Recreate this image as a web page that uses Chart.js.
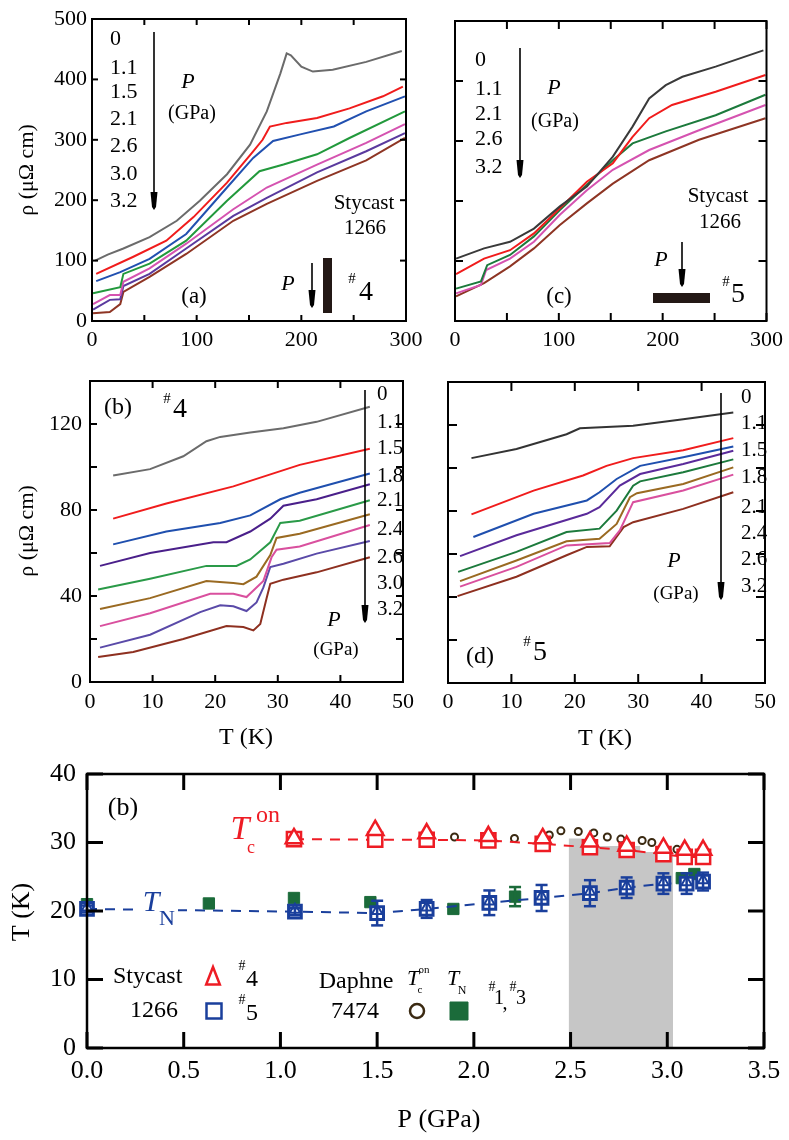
<!DOCTYPE html>
<html>
<head>
<meta charset="utf-8">
<title>rho(T) under pressure and T-P diagram</title>
<script src="https://cdn.jsdelivr.net/npm/chart.js@4.4.1/dist/chart.umd.min.js"></script>
<style>
  body { margin: 0; background: #fff; }
  #wrap { position: relative; width: 789px; height: 1140px; }
  #wrap canvas { position: absolute; left: 0; top: 0; }
</style>
</head>
<body>
<div id="wrap">
  <canvas id="pa" width="789" height="1140"></canvas>
  <canvas id="pc" width="789" height="1140"></canvas>
  <canvas id="pb" width="789" height="1140"></canvas>
  <canvas id="pd" width="789" height="1140"></canvas>
  <canvas id="pe" width="789" height="1140"></canvas>
</div>
<script>
// ---- datos: [T (K), rho (uOhm cm)] ----
// panel (a), muestra #4, 0-300 K
const a00 = [[3,100],[15,110],[30,120],[55,139],[81,166],[103,199],[129,243],[151,292],[167,347],[180,410],[186,443],[190,440],[200,421],[211,413],[230,416],[262,429],[296,447]];
const a11 = [[4,78],[39,106],[71,133],[97,172],[129,229],[154,281],[163,300],[170,322],[186,328],[215,336],[246,352],[278,372],[297,388]];
const a15 = [[4,66],[27,81],[55,103],[90,144],[129,221],[154,270],[173,298],[199,309],[231,322],[262,347],[299,372]];
const a21 = [[1,46],[27,56],[30,78],[55,95],[90,133],[129,199],[160,248],[183,259],[215,276],[246,303],[299,347]];
const a26 = [[1,28],[17,43],[27,43],[30,65],[55,87],[90,128],[135,185],[167,221],[215,259],[262,295],[299,326]];
const a30 = [[1,19],[17,35],[27,36],[30,58],[55,78],[90,120],[135,174],[167,204],[215,246],[262,281],[299,311]];
const a32 = [[1,13],[17,15],[27,28],[30,48],[55,73],[90,111],[135,166],[167,194],[215,232],[262,266],[299,303]];
const presA = ['0', '1.1', '1.5', '2.1', '2.6', '3.0', '3.2'];

// panel (c), muestra #5, 0-300 K
const c00 = [[1,104],[28,121],[53,132],[76,154],[101,191],[127,224],[152,274],[171,324],[187,371],[203,393],[219,407],[251,424],[297,451]];
const c11 = [[1,78],[28,104],[53,118],[76,146],[101,188],[127,232],[152,263],[171,307],[187,338],[209,360],[251,382],[299,410]];
const c21 = [[1,54],[25,66],[31,93],[53,110],[76,141],[101,185],[127,227],[152,268],[171,296],[203,316],[251,343],[299,377]];
const c26 = [[1,46],[25,60],[30,85],[53,104],[76,132],[101,177],[127,218],[152,252],[187,285],[235,318],[299,360]];
const c32 = [[1,41],[28,63],[53,91],[76,121],[101,160],[127,196],[152,229],[187,268],[235,302],[299,338]];
const presC = ['0', '1.1', '2.1', '2.6', '3.2'];

// panel (b), muestra #4, baja temperatura
const b00 = [[3.7,96],[9.6,99],[14.9,105],[18.6,112],[20.8,114],[25.6,116],[30.9,118],[36.2,121],[44.7,128]];
const b11 = [[3.7,76],[12.2,83],[22.9,91],[33.5,101],[44.7,108.5]];
const b15 = [[3.7,64],[12.2,70],[20.8,74],[25.6,77.5],[30.4,85],[33.5,88],[44.7,97]];
const b18 = [[1.6,54],[9.6,60],[19.7,65],[21.8,65],[25.6,70],[28.8,76],[30.9,82],[36.2,85],[44.7,92]];
const b21 = [[1.3,43],[9.6,48],[18.6,54],[23.4,54],[25.6,57],[28.8,65],[30.4,74],[33.5,75],[44.7,84.5]];
const b24 = [[1.6,34],[9.6,39],[18.6,47],[22.9,46],[24.5,45.5],[26.6,49],[28.8,59],[29.8,67],[33.5,69],[44.7,78]];
const b26 = [[1.6,26],[9.6,32],[19.2,41],[22.9,41],[25,39.5],[27.7,47],[29,58],[29.8,61.5],[33.5,63],[44.7,73]];
const b30 = [[1.6,16],[9.6,22],[17.6,32.5],[20.8,35.7],[22.9,35.2],[25,33],[26.6,37],[27.7,44],[28.8,53.5],[30.9,55],[36.2,59.7],[44.7,65.6]];
const b32 = [[1.3,11.6],[6.9,14],[14.9,20],[21.8,26],[24.5,25.6],[26.1,24],[27.2,27],[28.2,38.8],[28.8,45.7],[30.9,47.6],[36.2,51],[44.7,58]];
const presB = ['0', '1.1', '1.5', '1.8', '2.1', '2.4', '2.6', '3.0', '3.2'];

// panel (d), muestra #5, baja temperatura
const d00 = [[3.7,104.6],[10.8,108.8],[18.7,115.7],[20.8,118.5],[29.2,119.6],[37.1,122.7],[45,125.8]];
const d11 = [[3.7,78.4],[13.5,89.5],[21.3,96.5],[25,101],[29.2,104.6],[37.1,108.3],[45,113.9]];
const d15 = [[4,67.9],[13.5,78.7],[21.9,84.9],[23.9,88.7],[26.6,94.9],[30.3,101],[37.1,105],[45,110]];
const d18 = [[1.9,59],[10.8,68.7],[21.9,78.7],[23.9,81.8],[27.1,91.8],[30.3,97.2],[37.1,101.9],[45,108]];
const d21 = [[1.6,51.7],[10.8,61],[18.7,70.2],[23.9,71.8],[26.6,80.2],[29.2,91.8],[30.3,93.8],[37.1,98],[45,104]];
const d24 = [[1.9,47.4],[10.8,57],[18.7,65.9],[23.9,67.1],[26.6,74],[28.7,86.4],[29.8,88.3],[37.1,92.6],[45,100.3]];
const d26 = [[1.9,44.8],[10.8,54],[18.7,64],[25.5,65.1],[27.1,71],[29.2,84.1],[37.1,89.5],[45,96.9]];
const d32 = [[1.5,40.4],[10.8,49.4],[18.7,59.4],[21.9,63.3],[25.5,63.6],[27.7,72.5],[29.2,74.8],[37.1,81],[45,88.7]];
const presD = ['0', '1.1', '1.5', '1.8', '2.1', '2.4', '2.6', '3.2'];

// panel inferior: T-P
const pTc4 = [1.07, 1.49, 1.756, 2.075, 2.356, 2.60, 2.79, 2.98, 3.09, 3.185];
const tTc4 = [30.6, 31.8, 31.3, 30.9, 30.6, 30.1, 29.5, 29.2, 28.9, 28.9];
const pTc5 = [1.07, 1.49, 1.756, 2.075, 2.356, 2.60, 2.79, 2.98, 3.09, 3.185];
const tTc5 = [30.5, 30.4, 30.4, 30.3, 29.8, 29.3, 28.9, 28.3, 27.9, 27.9];
const pTn5 = [0.0, 1.075, 1.50, 1.756, 2.08, 2.35, 2.60, 2.79, 2.98, 3.10, 3.185];
const tTn5 = [20.3, 19.9, 19.7, 20.3, 21.2, 21.9, 22.6, 23.4, 24.0, 24.0, 24.3];
const eTn5 = [0.5, 0.5, 1.8, 1.3, 1.8, 1.9, 1.9, 1.5, 1.5, 1.5, 1.3];
const pTn4 = [0.0, 1.075, 1.50, 1.756, 2.08, 2.35, 2.60, 2.79, 2.98, 3.10, 3.185];
const tTn4 = [20.5, 20.2, 20.0, 20.5, 21.4, 22.1, 22.8, 23.6, 24.2, 24.2, 24.5];
const pTcD = [1.90, 2.21, 2.39, 2.45, 2.54, 2.62, 2.69, 2.76, 2.87, 2.92, 3.05];
const tTcD = [30.8, 30.6, 31.1, 31.7, 31.6, 31.4, 30.8, 30.5, 30.3, 30.0, 29.0];
const pTnD = [0.0, 0.63, 1.07, 1.465, 1.894, 2.213, 3.075, 3.14];
const tTnD = [21.0, 21.1, 21.9, 21.3, 20.3, 22.1, 24.8, 25.4];
const eTnD = [0, 0, 0, 0, 0, 1.4, 0, 0];
const grayP = [2.49, 2.63, 2.63, 2.86, 2.86, 3.03];
const grayT = [30.6, 30.6, 29.5, 29.5, 28.6, 28.6];

// ---- estilos ----
const W = 789, H = 1140;
const FONT = "'Liberation Serif', 'Times New Roman', serif";
const RED = '#ee1c24', BLUE = '#1a3f9c', DGREEN = '#1b6b3a';
const colA = ['#6b6b6b', '#f01c1c', '#2150b0', '#22993c', '#d553b0', '#5a3a9e', '#8e3524'];
const colC = ['#3a3a3a', '#f01c1c', '#1c7a3c', '#d553b0', '#8e3524'];
const colB = ['#6b6b6b', '#f01c1c', '#1f4fae', '#4a1f8a', '#2a9a48', '#9a6a22', '#d9509e', '#5a4aa8', '#8e3020'];
const colD = ['#333333', '#f01c1c', '#1f4fae', '#5a2a9a', '#1c7a3c', '#9a6a22', '#d9509e', '#8e3020'];

const xy = (xs, ys) => xs.map((x, i) => ({ x: x, y: ys[i] }));
const curve = (pts, color) => ({
  data: pts.map(p => ({ x: p[0], y: p[1] })),
  borderColor: color, borderWidth: 2, pointRadius: 0, fill: false
});
const txt = (t, x, y, s, ex) => Object.assign({ t: t, x: x, y: y, s: s }, ex || {});

// Plugin: marco, ticks hacia dentro, barras de error, textos y flechas
function line(ctx, x1, y1, x2, y2) {
  ctx.beginPath(); ctx.moveTo(x1, y1); ctx.lineTo(x2, y2); ctx.stroke();
}
function drawMark(ctx, m) {
  ctx.save();
  ctx.lineWidth = m.lw || 2;
  ctx.strokeStyle = m.c; ctx.fillStyle = m.fill || '#fff';
  ctx.beginPath();
  if (m.type === 'tri') {
    ctx.moveTo(m.x, m.y - m.r); ctx.lineTo(m.x + m.r * 0.62, m.y + m.r * 0.6); ctx.lineTo(m.x - m.r * 0.62, m.y + m.r * 0.6); ctx.closePath();
  } else if (m.type === 'rect') {
    ctx.rect(m.x - m.r, m.y - m.r, 2 * m.r, 2 * m.r);
  } else {
    ctx.arc(m.x, m.y, m.r, 0, Math.PI * 2);
  }
  ctx.fill(); ctx.stroke();
  ctx.restore();
}
const deco = {
  id: 'deco',
  afterDatasetsDraw(chart, args, o) {
    const ctx = chart.ctx, ys = chart.scales.y;
    chart.data.datasets.forEach((ds, i) => {
      if (!ds.errs) return;
      const meta = chart.getDatasetMeta(i);
      ctx.save();
      ctx.strokeStyle = ds.errColor; ctx.lineWidth = 2.5;
      meta.data.forEach((pt, j) => {
        const e = ds.errs[j];
        if (!e) return;
        const v = ds.data[j].y;
        const y1 = ys.getPixelForValue(v + e), y2 = ys.getPixelForValue(v - e);
        line(ctx, pt.x, y1, pt.x, y2);
        line(ctx, pt.x - 6, y1, pt.x + 6, y1);
        line(ctx, pt.x - 6, y2, pt.x + 6, y2);
      });
      ctx.restore();
    });
  },
  afterDraw(chart, args, o) {
    const ctx = chart.ctx, a = chart.chartArea;
    const xs = chart.scales.x, ys = chart.scales.y;
    ctx.save();
    ctx.strokeStyle = '#000';
    ctx.lineWidth = o.frame;
    ctx.strokeRect(a.left, a.top, a.right - a.left, a.bottom - a.top);
    ctx.lineWidth = o.tickW;
    xs.ticks.forEach(t => {
      const px = xs.getPixelForValue(t.value);
      line(ctx, px, a.bottom, px, a.bottom - o.tick);
      line(ctx, px, a.top, px, a.top + o.tick);
    });
    ys.ticks.forEach(t => {
      const py = ys.getPixelForValue(t.value);
      line(ctx, a.left, py, a.left + o.tick, py);
      line(ctx, a.right, py, a.right - o.tick, py);
    });
    (o.boxes || []).forEach(b => { ctx.fillStyle = b.c; ctx.fillRect(b.x, b.y, b.w, b.h); });
    (o.arrows || []).forEach(r => {
      ctx.strokeStyle = '#000'; ctx.fillStyle = '#000'; ctx.lineWidth = 1.6;
      line(ctx, r.x, r.y1, r.x, r.y2 - 4);
      ctx.beginPath();
      ctx.moveTo(r.x - 3.5, r.y2 - 18); ctx.lineTo(r.x + 3.5, r.y2 - 18);
      ctx.lineTo(r.x + 2, r.y2 - 3); ctx.lineTo(r.x, r.y2); ctx.lineTo(r.x - 2, r.y2 - 3);
      ctx.closePath(); ctx.fill();
    });
    (o.marks || []).forEach(m => drawMark(ctx, m));
    (o.texts || []).forEach(it => {
      ctx.save();
      ctx.font = (it.i ? 'italic ' : '') + it.s + 'px ' + FONT;
      ctx.fillStyle = it.c || '#000';
      ctx.textAlign = it.a || 'center';
      ctx.textBaseline = 'middle';
      ctx.translate(it.x, it.y);
      if (it.r) ctx.rotate(it.r);
      ctx.fillText(it.t, 0, 0);
      ctx.restore();
    });
    ctx.restore();
  }
};

function axis(area, o, horiz) {
  return {
    type: 'linear', min: o.min, max: o.max,
    afterFit: horiz ? (s => { s.height = H - area.b; }) : (s => { s.width = area.l; }),
    ticks: {
      stepSize: o.step, autoSkip: false, maxRotation: 0, padding: o.pad, color: '#000',
      font: { family: FONT, size: o.size },
      callback: o.cb
    },
    grid: { display: false, drawTicks: false },
    border: { display: false }
  };
}

function panel(id, area, xo, yo, datasets, dec) {
  return new Chart(document.getElementById(id), {
    type: 'line',
    data: { datasets: datasets },
    options: {
      responsive: false, animation: false,
      layout: { padding: { left: 0, top: area.t, right: W - area.r, bottom: 0 } },
      plugins: { legend: { display: false }, tooltip: { enabled: false }, deco: dec },
      scales: { x: axis(area, xo, true), y: axis(area, yo, false) },
      elements: { line: { tension: 0 } }
    },
    plugins: [deco]
  });
}

const every = n => v => (Math.abs(v % n) < 1e-9 ? String(v) : '');
const none = () => '';
const rotL = -Math.PI / 2;
const rhoLabel = 'ρ (μΩ cm)';

// panel (a)
panel('pa', { l: 92, t: 19, r: 406, b: 321 },
  { min: 0, max: 300, step: 50, pad: 6, size: 22, cb: every(100) },
  { min: 0, max: 500, step: 100, pad: 5, size: 22, cb: every(100) },
  [a00, a11, a15, a21, a26, a30, a32].map((c, i) => curve(c, colA[i])),
  {
    frame: 2, tick: 6, tickW: 2,
    boxes: [{ x: 323, y: 258, w: 9, h: 55, c: '#231815' }],
    arrows: [{ x: 154, y1: 32, y2: 210 }, { x: 312, y1: 263, y2: 308 }],
    texts: presA.map((p, i) => txt(p, 110, [39, 68, 92, 119, 146, 174, 201][i], 22, { a: 'left' })).concat([
      txt('P', 188, 82, 22, { i: true }), txt('(GPa)', 192, 114, 20),
      txt('Stycast', 364, 203, 21), txt('1266', 365, 228, 21),
      txt('(a)', 194, 297, 23), txt('P', 288, 284, 22, { i: true }),
      txt('#', 352, 279, 15), txt('4', 366, 293, 28),
      txt(rhoLabel, 27, 170, 22, { r: rotL })
    ])
  });

// panel (c)
panel('pc', { l: 455, t: 21, r: 768, b: 321 },
  { min: 0, max: 300, step: 50, pad: 6, size: 22, cb: every(100) },
  { min: 0, max: 500, step: 100, pad: 5, size: 22, cb: none },
  [c00, c11, c21, c26, c32].map((c, i) => curve(c, colC[i])),
  {
    frame: 2, tick: 8, tickW: 2,
    boxes: [{ x: 653, y: 293, w: 57, h: 10, c: '#231815' }],
    arrows: [{ x: 520, y1: 48, y2: 178 }, { x: 682, y1: 242, y2: 287 }],
    texts: presC.map((p, i) => txt(p, 475, [60, 89, 114, 139, 167][i], 22, { a: 'left' })).concat([
      txt('P', 554, 88, 22, { i: true }), txt('(GPa)', 555, 122, 20),
      txt('Stycast', 718, 196, 21), txt('1266', 720, 222, 21),
      txt('(c)', 559, 297, 23), txt('P', 661, 260, 22, { i: true }),
      txt('#', 726, 282, 15), txt('5', 738, 295, 28)
    ])
  });

// panel (b)
panel('pb', { l: 90, t: 381, r: 403, b: 682 },
  { min: 0, max: 50, step: 10, pad: 7, size: 22, cb: every(10) },
  { min: 0, max: 140, step: 20, pad: 8, size: 22, cb: every(40) },
  [b00, b11, b15, b18, b21, b24, b26, b30, b32].map((c, i) => curve(c, colB[i])),
  {
    frame: 2, tick: 7, tickW: 2,
    arrows: [{ x: 365, y1: 390, y2: 623 }],
    texts: presB.map((p, i) => txt(p, 377, [394, 422, 448, 476, 500, 529, 557, 583, 609][i], 21, { a: 'left' })).concat([
      txt('(b)', 118, 408, 24), txt('#', 167, 399, 15), txt('4', 180, 410, 28),
      txt('P', 334, 620, 22, { i: true }), txt('(GPa)', 336, 650, 19),
      txt(rhoLabel, 27, 531, 22, { r: rotL }), txt('T (K)', 246, 738, 24)
    ])
  });

// panel (d)
panel('pd', { l: 448, t: 382, r: 765, b: 683 },
  { min: 0, max: 50, step: 10, pad: 6, size: 22, cb: every(10) },
  { min: 0, max: 140, step: 20, pad: 8, size: 22, cb: none },
  [d00, d11, d15, d18, d21, d24, d26, d32].map((c, i) => curve(c, colD[i])),
  {
    frame: 2, tick: 9, tickW: 2,
    arrows: [{ x: 721, y1: 393, y2: 600 }],
    texts: presD.map((p, i) => txt(p, 741, [397, 423, 450, 477, 507, 533, 559, 586][i], 21, { a: 'left' })).concat([
      txt('(d)', 480, 657, 24), txt('#', 527, 642, 15), txt('5', 540, 653, 28),
      txt('P', 674, 561, 22, { i: true }), txt('(GPa)', 676, 594, 19),
      txt('T (K)', 605, 739, 24)
    ])
  });

// panel inferior T-P
panel('pe', { l: 87, t: 774, r: 764, b: 1048 },
  { min: 0, max: 3.5, step: 0.5, pad: 8, size: 26, cb: v => v.toFixed(1) },
  { min: 0, max: 40, step: 10, pad: 11, size: 26, cb: v => String(v) },
  [
    { data: xy(grayP, grayT), fill: 'origin', backgroundColor: '#c6c6c6', borderWidth: 0, pointRadius: 0, order: 100 },
    { data: xy(pTc5, tTc5), borderColor: RED, borderWidth: 2, borderDash: [10, 8], pointStyle: 'rect', pointRadius: 10,
      pointBorderColor: RED, pointBackgroundColor: '#fff', pointBorderWidth: 2.5, clip: false, order: 6 },
    { data: xy(pTc4, tTc4), showLine: false, pointStyle: 'triangle', pointRadius: 9.5,
      pointBorderColor: RED, pointBackgroundColor: '#fff', pointBorderWidth: 2.5, clip: false, order: 5 },
    { data: xy(pTcD, tTcD), showLine: false, pointStyle: 'circle', pointRadius: 3.5,
      pointBorderColor: '#3b2a12', pointBackgroundColor: '#fff', pointBorderWidth: 2, clip: false, order: 7 },
    { data: xy(pTnD, tTnD), showLine: false, pointStyle: 'rect', pointRadius: 8, errs: eTnD, errColor: DGREEN,
      pointBorderColor: DGREEN, pointBackgroundColor: DGREEN, pointBorderWidth: 1, clip: false, order: 4 },
    { data: xy(pTn5, tTn5), borderColor: BLUE, borderWidth: 2, borderDash: [10, 8], pointStyle: 'rect', pointRadius: 9,
      errs: eTn5, errColor: BLUE,
      pointBorderColor: BLUE, pointBackgroundColor: '#fff', pointBorderWidth: 3, clip: false, order: 2 },
    { data: xy(pTn4, tTn4), showLine: false, pointStyle: 'triangle', pointRadius: 6,
      pointBorderColor: BLUE, pointBackgroundColor: 'rgba(255,255,255,0)', pointBorderWidth: 2, clip: false, order: 1 }
  ],
  {
    frame: 2.5, tick: 16, tickW: 3,
    boxes: [{ x: 138, y: 893, w: 40, h: 34, c: '#fff' }],
    marks: [
      { type: 'tri', x: 213, y: 978, r: 11, c: RED, lw: 2.5 },
      { type: 'rect', x: 214, y: 1011, r: 7.5, c: BLUE, lw: 2.5 },
      { type: 'circle', x: 417, y: 1011, r: 7, c: '#3b2a12', lw: 2.5 },
      { type: 'rect', x: 459, y: 1011, r: 9, c: DGREEN, fill: DGREEN, lw: 1 }
    ],
    texts: [
      txt('(b)', 123, 808, 26),
      txt('T', 240, 830, 34, { i: true, c: RED }), txt('c', 251, 848, 18, { c: RED }), txt('on', 268, 816, 24, { c: RED }),
      txt('T', 151, 903, 30, { i: true, c: BLUE }), txt('N', 167, 919, 22, { c: BLUE }),
      txt('Stycast', 113, 977, 24, { a: 'left' }), txt('1266', 154, 1011, 24),
      txt('#', 242, 966, 14), txt('4', 252, 980, 24),
      txt('#', 242, 1000, 14), txt('5', 252, 1014, 24),
      txt('Daphne', 356, 982, 24), txt('7474', 355, 1012, 24),
      txt('T', 413, 979, 22, { i: true }), txt('c', 420, 990, 11), txt('on', 424, 970, 11),
      txt('T', 453, 979, 22, { i: true }), txt('N', 462, 991, 12),
      txt('#', 492, 987, 14), txt('1', 499, 999, 20), txt(',', 505, 1004, 20),
      txt('#', 513, 987, 14), txt('3', 521, 999, 20),
      txt('T (K)', 22, 912, 26, { r: rotL }), txt('P (GPa)', 439, 1120, 26)
    ]
  });
</script>
</body>
</html>
